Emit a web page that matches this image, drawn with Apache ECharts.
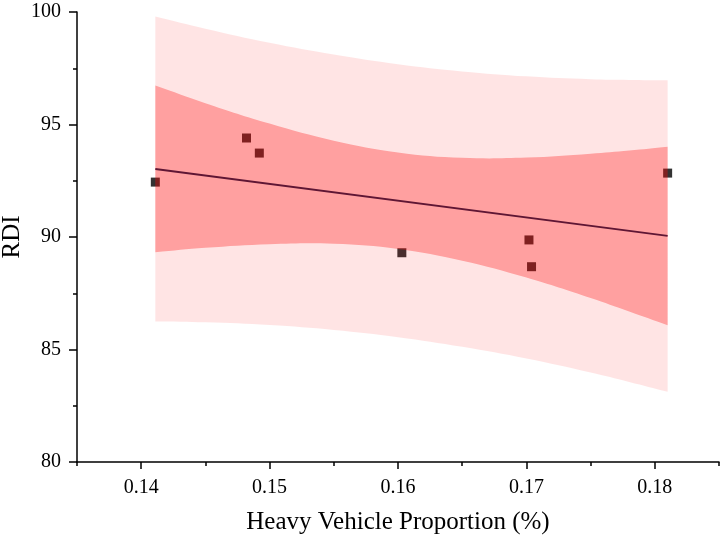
<!DOCTYPE html>
<html>
<head>
<meta charset="utf-8">
<script src="https://cdn.jsdelivr.net/npm/echarts@6/dist/echarts.min.js"></script>
<style>
  html, body { margin: 0; padding: 0; background: #fff; }
  #main { width: 723px; height: 541px; }
</style>
</head>
<body>
<div id="main"></div>
<script>
// measured points
var ptX = [0.1411, 0.1482, 0.1492, 0.1603, 0.1702, 0.1704, 0.1810];
var ptY = [92.44, 94.40, 93.73, 89.30, 89.87, 88.68, 92.84];

// fitted line, read at both ends
var fitX = [0.1411, 0.1810];
var fitY = [93.02, 90.05];

// band edges
var bandX   = [0.1411, 0.145, 0.15, 0.155, 0.16, 0.165, 0.17, 0.175, 0.178, 0.1810];
var ciUpper = [96.73, 95.95, 95.04, 94.28, 93.76, 93.52, 93.53, 93.70, 93.84, 94.01];
var ciLower = [89.32, 89.52, 89.68, 89.70, 89.47, 88.95, 88.20, 87.29, 86.69, 86.08];
var piUpper = [99.80, 99.26, 98.63, 98.11, 97.68, 97.36, 97.14, 97.01, 96.98, 96.97];
var piLower = [86.25, 86.21, 86.09, 85.87, 85.55, 85.12, 84.60, 83.98, 83.56, 83.12];

// tick labels
var xMajor = [0.14, 0.15, 0.16, 0.17, 0.18];
var xMinor = [0.135, 0.145, 0.155, 0.165, 0.175, 0.185];

var font = '"Liberation Serif", "Times New Roman", serif';

function pairs(xs, ys) {
  return xs.map(function (x, i) { return [x, ys[i]]; });
}

// band outline: upper edge left->right, lower edge right->left,
// corners doubled so the smoothing keeps them square
function bandRender(upper, lower, color) {
  return function (params, api) {
    if (params.dataIndex !== 0) return;
    var pts = [];
    var n = bandX.length;
    pts.push(api.coord([bandX[0], upper[0]]));
    for (var i = 0; i < n; i++) pts.push(api.coord([bandX[i], upper[i]]));
    pts.push(api.coord([bandX[n - 1], upper[n - 1]]));
    pts.push(api.coord([bandX[n - 1], lower[n - 1]]));
    for (var j = n - 1; j >= 0; j--) pts.push(api.coord([bandX[j], lower[j]]));
    pts.push(api.coord([bandX[0], lower[0]]));
    return {
      type: 'polygon',
      shape: { points: pts, smooth: 0.4 },
      style: { fill: color, stroke: null }
    };
  };
}

var chart = echarts.init(document.getElementById('main'), null, { renderer: 'canvas' });

var option = {
  animation: false,
  grid: { left: 77, right: 4, top: 12, bottom: 79, containLabel: false, outerBoundsMode: 'none' },
  xAxis: [{
    type: 'value',
    min: 0.135,
    max: 0.185,
    name: 'Heavy Vehicle Proportion (%)',
    nameLocation: 'middle',
    nameGap: 48,
    nameMoveOverlap: false,
    nameTextStyle: { fontFamily: font, fontSize: 25, color: '#000' },
    axisLine: { lineStyle: { color: '#000', width: 1.5 } },
    axisTick: { customValues: xMajor, length: 7, lineStyle: { color: '#000', width: 1.5 } },
    axisLabel: {
      customValues: xMajor,
      margin: 16,
      fontFamily: font, fontSize: 20, color: '#000',
      formatter: function (v) { return v.toFixed(2); }
    },
    splitLine: { show: false }
  }, {
    type: 'value',
    position: 'bottom',
    min: 0.135,
    max: 0.185,
    axisLine: { show: false },
    axisTick: { customValues: xMinor, length: 4, lineStyle: { color: '#000', width: 1.5 } },
    axisLabel: { show: false },
    splitLine: { show: false }
  }],
  yAxis: {
    type: 'value',
    min: 80,
    max: 100,
    interval: 5,
    name: 'RDI',
    nameLocation: 'middle',
    nameGap: 52,
    nameMoveOverlap: false,
    nameTextStyle: { fontFamily: font, fontSize: 25, color: '#000' },
    axisLine: { show: true, lineStyle: { color: '#000', width: 1.5 } },
    axisTick: { show: true, length: 8, lineStyle: { color: '#000', width: 1.5 } },
    minorTick: { show: true, splitNumber: 2, length: 4, lineStyle: { color: '#000', width: 1.5 } },
    axisLabel: { margin: 16, fontFamily: font, fontSize: 20, color: '#000' },
    splitLine: { show: false }
  },
  series: [
    {
      name: 'points',
      type: 'scatter',
      symbol: 'rect',
      symbolSize: 9,
      z: 1,
      itemStyle: { color: '#000' },
      data: pairs(ptX, ptY)
    },
    {
      name: 'prediction band',
      type: 'custom',
      z: 2,
      renderItem: bandRender(piUpper, piLower, 'rgba(255,0,0,0.105)'),
      data: [[bandX[0], piUpper[0]]]
    },
    {
      name: 'confidence band',
      type: 'custom',
      z: 3,
      renderItem: bandRender(ciUpper, ciLower, 'rgba(255,0,0,0.3)'),
      data: [[bandX[0], ciUpper[0]]]
    },
    {
      name: 'fit',
      type: 'line',
      symbol: 'none',
      z: 4,
      lineStyle: { color: '#5f1634', width: 2 },
      data: pairs(fitX, fitY)
    }
  ]
};

chart.setOption(option);
</script>
</body>
</html>
